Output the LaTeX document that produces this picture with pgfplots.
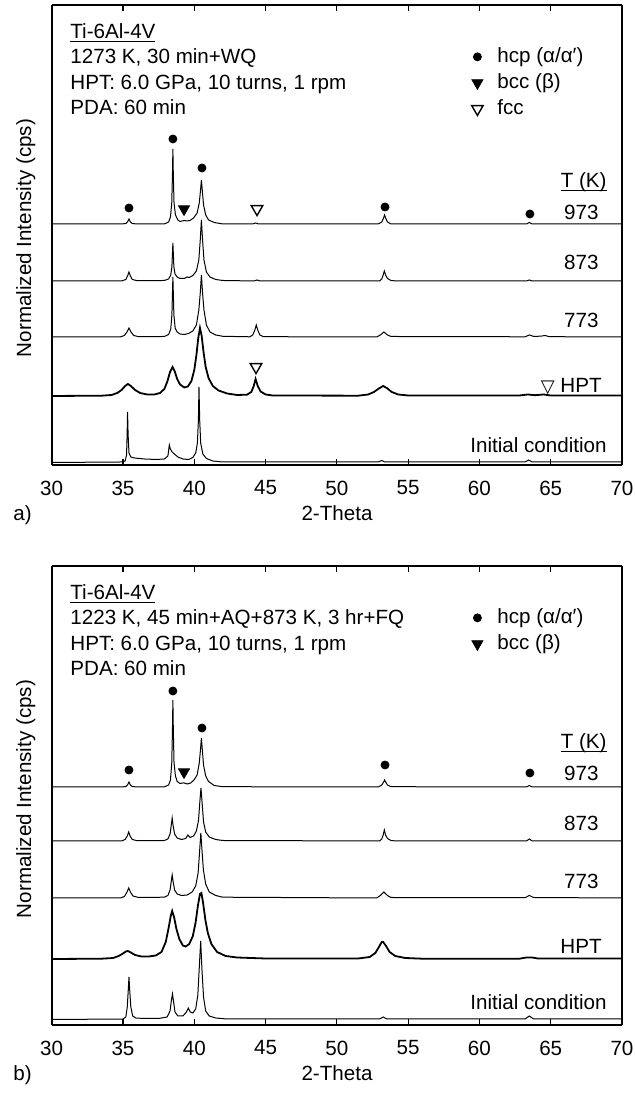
\documentclass[border=0pt]{standalone}
\usepackage{fontspec}
\setmainfont{Liberation Sans}
\newfontfamily\symfont{DejaVu Sans}
\usepackage{pgfplots}
\pgfplotsset{compat=1.18}
\newcommand{\fs}{\fontsize{10.3}{12.4}\selectfont}
\newcommand{\ul}[1]{\setbox0\hbox{#1}\rlap{\rule[-1.7pt]{\wd0}{0.55pt}}\box0}
\pgfplotsset{
 xrdax/.style={
  scale only axis, width=285.15pt, xmin=30, xmax=70, ymin=0,
  anchor=south west, xtick={30,35,...,70}, ytick=\empty,
  tick align=inside, major tick length=3pt,
  separate axis lines, axis line style={line width=0.8pt},
  tick style={line width=0.6pt, black},
  ticklabel style={font=\fs}, /pgf/number format/assume math mode=true,
  xticklabel style={yshift=-4.2pt},
  legend style={draw=none, fill=none, font=\fs, anchor=north west,
    nodes={inner sep=0.5pt, text height=7.4pt, text depth=2.1pt}, row sep=2.5pt},
  legend cell align=left,
 },
 curve/.style={black, line width=0.5pt, no markers, forget plot},
 hpt/.style={black, line width=0.9pt, no markers, forget plot},
 mklegend/.style={legend image code/.code={\path[draw=none,fill=none] (-6pt,0pt) -- (9.5pt,0pt); \draw[##1] plot coordinates {(0pt,0pt)};}},
 hcp/.style={only marks, mark=*, mark size=2pt, black, mklegend},
 bcc/.style={only marks, mark=triangle*, mark size=3.2pt, mark options={rotate=180}, black, mklegend},
 fcc/.style={only marks, mark=triangle, mark size=3.3pt, mark options={rotate=180, line width=0.7pt}, black, mklegend},
}
\begin{document}
\fs
\begin{tikzpicture}
\useasboundingbox (0,0) rectangle (317pt,547.5pt);
% ---------------- panel a ----------------
\begin{axis}[xrdax, at={(25.85pt,315pt)}, height=230pt, ymax=460,
  legend style={at={(0.7142,0.9196)}}]
\addplot[hcp] coordinates {(35.42,257) (38.5,326) (40.54,297) (53.38,258) (63.54,251)};
\addlegendentry{hcp (α/α′)}
\addplot[bcc] coordinates {(39.28,256)};
\addlegendentry{bcc (β)}
\addplot[fcc] coordinates {(44.4,256) (44.33,98)};
\addlegendentry{fcc}
% 973 K
\addplot[curve] coordinates {(30,241)(34.9,241)(35.2,241.5)(35.32,243)(35.42,246)(35.52,243)(35.65,241.5)(36,241)(37.9,241)(38.2,243)(38.33,248)(38.42,262)(38.47,290)(38.5,316)(38.53,290)(38.58,262)(38.68,250)(38.85,245)(39,243.5)(39.15,244)(39.3,244.5)(39.45,244)(39.7,244.5)(39.95,247)(40.2,252)(40.35,262)(40.44,275)(40.5,285)(40.56,275)(40.65,260)(40.8,250)(41,245)(41.4,242.5)(42,241)(44.1,241)(44.3,242)(44.5,241)(52.9,241)(53.15,243)(53.28,247)(53.35,250)(53.42,247)(53.55,243)(53.8,241)(63.3,241)(63.5,242.5)(63.7,241)(70,241)};
% 873 K
\addplot[curve] coordinates {(30,184)(34.9,184)(35.2,185.5)(35.32,189)(35.42,193)(35.52,189)(35.65,185.5)(36,184.3)(37.9,184.5)(38.2,186)(38.35,190)(38.43,198)(38.5,222)(38.57,198)(38.65,191)(38.8,188)(39,186.5)(39.3,186.5)(39.5,188)(39.65,187.5)(39.9,189.5)(40.15,194)(40.32,205)(40.42,225)(40.5,245)(40.58,225)(40.68,205)(40.85,193)(41.1,188)(41.5,185.5)(42,184.5)(44.2,184)(44.4,185)(44.6,184)(53,184)(53.15,186)(53.25,190)(53.33,194)(53.42,190)(53.55,186.5)(53.8,184.5)(54.2,184)(63.3,184)(63.5,185)(63.7,184)(70,184)};
% 773 K
\addplot[curve] coordinates {(30,128)(34.8,128)(35.1,129.5)(35.28,133)(35.42,137)(35.56,133)(35.75,129.5)(36.1,128.3)(37.9,128.5)(38.2,130.5)(38.35,136)(38.43,150)(38.5,188)(38.57,150)(38.66,137)(38.8,133)(39,131)(39.3,130.5)(39.6,131.5)(39.9,134)(40.15,140)(40.32,155)(40.42,172)(40.5,190)(40.58,172)(40.68,155)(40.85,140)(41.1,133)(41.5,130)(42,128.7)(43.9,128.2)(44.1,130)(44.25,135)(44.35,140)(44.45,135)(44.6,130)(44.85,128.3)(52.8,128)(53.05,130)(53.3,133)(53.55,130)(53.8,128.5)(63.2,128.2)(63.5,130)(63.8,128.6)(64.3,128.8)(64.6,129.5)(64.9,128.3)(70,128)};
% HPT
\addplot[hpt] coordinates {(30,69)(33.5,69.3)(34.2,70)(34.6,72)(34.9,75)(35.15,79)(35.35,81)(35.55,79)(35.85,75)(36.2,72)(36.7,70.5)(37.2,70.5)(37.6,72)(37.9,76)(38.1,83)(38.3,93)(38.48,98)(38.62,94)(38.8,86)(39,80.5)(39.3,77.5)(39.55,78.5)(39.8,84)(40,95)(40.15,110)(40.28,127)(40.4,137)(40.52,129)(40.65,113)(40.8,98)(41,87)(41.3,79)(41.7,74.5)(42.3,71.5)(43,70)(43.7,70.3)(44,73)(44.15,78)(44.3,86)(44.45,79)(44.65,73.5)(45,70.5)(45.5,69.5)(51.5,69.3)(52.2,70.5)(52.6,73)(52.95,76.5)(53.25,79)(53.5,77)(53.85,73)(54.3,70.5)(55,69.5)(62.8,69.5)(63.4,70.5)(63.9,69.8)(64.5,70.5)(65,69.5)(70,69.5)};
% initial
\addplot[curve] coordinates {(30,2.5)(34.9,3)(35.15,4)(35.25,10)(35.29,30)(35.32,53)(35.36,30)(35.42,12)(35.55,8)(35.8,7)(36.5,6)(37.3,5.5)(37.9,6)(38.15,9)(38.25,20)(38.32,16)(38.45,13)(38.6,11)(38.85,8)(39.2,6)(39.6,5.5)(39.9,7.5)(40.1,12)(40.22,22)(40.29,45)(40.33,78)(40.38,45)(40.45,22)(40.6,11)(40.85,6.5)(41.3,4)(42,3)(52.9,3)(53.15,4.5)(53.35,3)(63.2,3)(63.45,5)(63.7,3)(70,3)};
\end{axis}
% ---------------- panel b ----------------
\begin{axis}[xrdax, at={(25.85pt,35pt)}, height=229.5pt, ymax=459,
  legend style={at={(0.7142,0.9194)}}]
\addplot[hcp] coordinates {(35.42,255) (38.5,334) (40.54,297) (53.38,260) (63.54,252)};
\addlegendentry{hcp (α/α′)}
\addplot[bcc] coordinates {(39.28,253)};
\addlegendentry{bcc (β)}
% 973 K
\addplot[curve] coordinates {(30,238)(34.9,238)(35.2,238.5)(35.32,240)(35.42,243)(35.52,240)(35.65,238.5)(36,238)(37.9,238.2)(38.2,240)(38.33,245)(38.42,262)(38.47,295)(38.5,325)(38.53,295)(38.58,262)(38.68,249)(38.8,243.5)(39,241.5)(39.2,242)(39.3,242)(39.5,241)(39.75,242)(39.98,245)(40.2,250)(40.35,262)(40.44,276)(40.5,287)(40.56,276)(40.65,260)(40.8,249)(41,243.5)(41.4,239.5)(42,238.3)(52.9,238)(53.15,240)(53.28,243)(53.35,245)(53.42,243)(53.55,240)(53.8,238.3)(63.3,238)(63.5,239.5)(63.7,238)(70,238)};
% 873 K
\addplot[curve] coordinates {(30,184)(34.9,184)(35.15,185.5)(35.3,189)(35.4,193)(35.5,189)(35.65,185.5)(36,184.3)(37.9,184.5)(38.15,186)(38.3,191)(38.38,199)(38.45,207)(38.52,199)(38.62,191)(38.8,187)(39.1,185.5)(39.4,186.5)(39.55,190)(39.7,187.5)(39.95,189)(40.15,194)(40.3,205)(40.4,225)(40.47,237)(40.55,222)(40.65,203)(40.8,193)(41.05,188)(41.5,185.5)(42,184.5)(53,184)(53.15,186)(53.25,190)(53.33,195)(53.42,190)(53.55,186.5)(53.8,184.5)(54.2,184)(63.3,184)(63.5,186)(63.7,184)(70,184)};
% 773 K
\addplot[curve] coordinates {(30,127)(34.8,127)(35.1,128.5)(35.28,133)(35.4,137)(35.52,133)(35.7,129)(36.1,127.5)(37.9,127.8)(38.15,129.5)(38.3,135)(38.38,143)(38.45,150)(38.52,143)(38.62,135)(38.8,131)(39.1,129.5)(39.5,130)(39.85,133)(40.1,139)(40.27,152)(40.38,175)(40.46,192)(40.54,175)(40.64,155)(40.8,141)(41.05,133)(41.5,129.5)(42,127.8)(52.8,127)(53.05,129.5)(53.3,133)(53.55,129.5)(53.8,127.5)(63.2,127.3)(63.5,129.5)(63.8,127.5)(70,127)};
% HPT
\addplot[hpt] coordinates {(30,66)(33.5,66.3)(34.3,67)(34.7,69)(35,71.5)(35.2,73.5)(35.35,74)(35.55,72.5)(35.85,70)(36.3,68.5)(36.8,68.5)(37.3,69.5)(37.7,73)(38,83)(38.2,97)(38.35,109)(38.45,114)(38.58,108)(38.75,96)(38.95,86)(39.2,79.5)(39.4,78.5)(39.65,81)(39.9,89)(40.1,103)(40.25,119)(40.4,131)(40.5,132)(40.62,122)(40.78,105)(40.95,92)(41.2,81)(41.6,73)(42.2,69)(43,67.5)(45,66.5)(51.5,66.5)(52.3,68)(52.7,72)(52.95,78)(53.15,83)(53.25,83)(53.45,79)(53.7,73)(54.1,69)(54.8,67)(56,66.3)(62.8,66.3)(63.3,67.5)(63.7,67.5)(64.1,66.5)(70,66.5)};
% initial
\addplot[curve] coordinates {(30,5.5)(35,6)(35.2,8)(35.3,18)(35.37,35)(35.42,48)(35.47,35)(35.55,18)(35.68,9)(35.9,7)(36.5,6.5)(37.5,6.5)(38.1,8)(38.3,14)(38.4,25)(38.47,31)(38.54,24)(38.65,13)(38.85,9)(39.2,9)(39.45,13)(39.58,17)(39.72,13)(39.9,12)(40.1,16)(40.25,30)(40.36,60)(40.45,84)(40.54,55)(40.65,28)(40.8,14)(41.05,9)(41.5,7)(42.3,6)(53,6)(53.25,8)(53.5,6)(63.2,6)(63.5,9)(63.8,6)(70,6)};
\end{axis}
% ---------------- texts ----------------
\begin{scope}[every node/.style={font=\fs, inner sep=0pt}]
% panel a
\node[anchor=base west] at (35pt,528pt) {\ul{Ti-6Al-4V}};
\node[anchor=base west] at (35pt,515.5pt) {1273 K, 30 min+WQ};
\node[anchor=base west] at (35pt,502.5pt) {HPT: 6.0 GPa, 10 turns, 1 rpm};
\node[anchor=base west] at (35pt,490pt) {PDA: 60 min};
\node[anchor=base east] at (303.5pt,453.5pt) {\ul{T (K)}};
\node[anchor=base east] at (299.5pt,437.5pt) {973};
\node[anchor=base east] at (299.5pt,412.5pt) {873};
\node[anchor=base east] at (299.5pt,383.5pt) {773};
\node[anchor=base east] at (301pt,351pt) {{\symfont\fontsize{9}{10}\selectfont ▽} HPT};
\node[anchor=base east] at (303.5pt,321pt) {Initial condition};
\node[anchor=base, rotate=90] at (15.5pt,428.5pt) {Normalized Intensity (cps)};
\node[anchor=base] at (168.5pt,287pt) {2-Theta};
\node[anchor=base west] at (6.5pt,287pt) {a)};
% panel b
\node[anchor=base west] at (35pt,247.5pt) {\ul{Ti-6Al-4V}};
\node[anchor=base west] at (35pt,235pt) {1223 K, 45 min+AQ+873 K, 3 hr+FQ};
\node[anchor=base west] at (35pt,222pt) {HPT: 6.0 GPa, 10 turns, 1 rpm};
\node[anchor=base west] at (35pt,209.5pt) {PDA: 60 min};
\node[anchor=base east] at (303.5pt,173pt) {\ul{T (K)}};
\node[anchor=base east] at (299.5pt,157pt) {973};
\node[anchor=base east] at (299.5pt,132pt) {873};
\node[anchor=base east] at (299.5pt,103pt) {773};
\node[anchor=base east] at (301pt,70.5pt) {HPT};
\node[anchor=base east] at (303.5pt,42.5pt) {Initial condition};
\node[anchor=base, rotate=90] at (15.5pt,148pt) {Normalized Intensity (cps)};
\node[anchor=base] at (168.5pt,7pt) {2-Theta};
\node[anchor=base west] at (6.5pt,7pt) {b)};
\end{scope}
\end{tikzpicture}
\end{document}
